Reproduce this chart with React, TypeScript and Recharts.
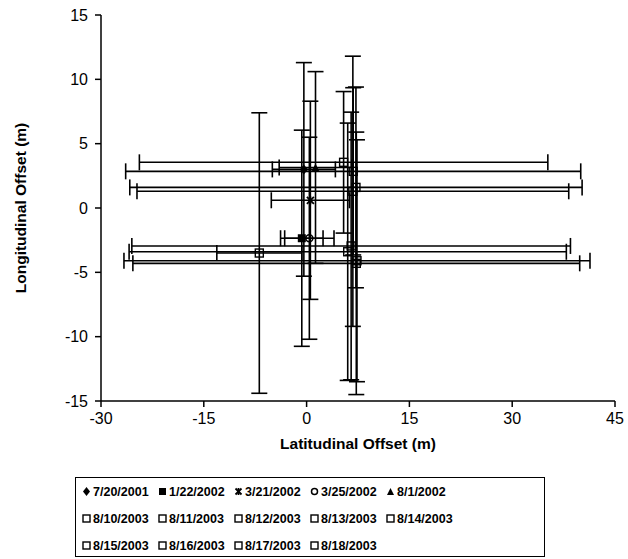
import React from 'react';
import { ScatterChart, Scatter, XAxis, YAxis, ErrorBar, Legend } from 'recharts';

const FONT = '"Liberation Sans", Arial, sans-serif';

const seriesNames = [
  '7/20/2001', '1/22/2002', '3/21/2002', '3/25/2002', '8/1/2002',
  '8/10/2003', '8/11/2003', '8/12/2003', '8/13/2003', '8/14/2003',
  '8/15/2003', '8/16/2003', '8/17/2003', '8/18/2003',
];
const markerTypes = [
  'diamond', 'filledSquare', 'star', 'circle', 'triangle',
  'square', 'square', 'square', 'square', 'square',
  'square', 'square', 'square', 'square',
];
const xValues = [-0.4, -0.7, 0.55, 0.4, 1.3, 5.4, 6.8, 7.2, 6.75, 6.5, 6.0, 7.35, 7.25, -6.9];
const yValues = [3.0, -2.35, 0.6, -2.35, 3.15, 3.55, 2.85, 1.6, 1.3, -2.95, -3.4, -4.1, -4.3, -3.5];
const xErrors = [4.6, 3.1, 5.7, 3.6, 5.3, 29.8, 33.2, 33.0, 31.5, 32.0, 31.9, 34.0, 32.6, 6.2];
const yErrors = [8.3, 8.4, 7.7, 7.85, 7.45, 5.5, 6.5, 7.8, 10.5, 10.4, 10.0, 9.4, 10.2, 10.9];

const xTicks = [-30, -15, 0, 15, 30, 45];
const yTicks = [-15, -10, -5, 0, 5, 10, 15];

function Marker({ cx, cy, type, r = 4 }: { cx: number; cy: number; type: string; r?: number }) {
  if (cx == null || cy == null) return null;
  switch (type) {
    case 'diamond':
      return <polygon points={`${cx},${cy - r - 1} ${cx + r},${cy} ${cx},${cy + r + 1} ${cx - r},${cy}`} fill="#000" />;
    case 'filledSquare':
      return <rect x={cx - r} y={cy - r} width={2 * r} height={2 * r} fill="#000" />;
    case 'star':
      return (
        <g stroke="#000" strokeWidth={1.8}>
          <line x1={cx - r + 0.5} y1={cy - r + 0.5} x2={cx + r - 0.5} y2={cy + r - 0.5} />
          <line x1={cx - r + 0.5} y1={cy + r - 0.5} x2={cx + r - 0.5} y2={cy - r + 0.5} />
          <line x1={cx} y1={cy - r} x2={cx} y2={cy + r} />
        </g>
      );
    case 'circle':
      return <circle cx={cx} cy={cy} r={r - 0.5} fill="none" stroke="#000" strokeWidth={1.5} />;
    case 'triangle':
      return <polygon points={`${cx},${cy - r} ${cx + r},${cy + r} ${cx - r},${cy + r}`} fill="#000" />;
    default:
      return <rect x={cx - r} y={cy - r} width={2 * r} height={2 * r} fill="none" stroke="#000" strokeWidth={1.4} />;
  }
}

const series = seriesNames.map((name, i) => ({
  name,
  type: markerTypes[i],
  data: [{ x: xValues[i], y: yValues[i], ex: xErrors[i], ey: yErrors[i] }],
}));

const renderLegend = () => (
  <div
    style={{
      boxSizing: 'border-box',
      width: 470,
      height: 80,
      border: '1.5px solid #000',
      background: '#fff',
      paddingLeft: 5,
      fontFamily: FONT,
      fontWeight: 'bold',
      fontSize: 12.5,
      color: '#000',
      display: 'grid',
      gridTemplateColumns: 'repeat(5, 76px)',
      gridAutoRows: '27px',
    }}
  >
    {series.map((s) => (
      <div key={s.name} style={{ display: 'flex', alignItems: 'center', whiteSpace: 'nowrap' }}>
        <svg width={11} height={11} style={{ marginRight: 1 }}>
          <Marker cx={5.5} cy={5.5} type={s.type} r={3.5} />
        </svg>
        <span>{s.name}</span>
      </div>
    ))}
  </div>
);

const xLabel = (props: any) => {
  const vb = props.viewBox;
  return (
    <text x={vb.x + vb.width / 2} y={vb.y + 42} textAnchor="middle" dominantBaseline="central"
      fontFamily={FONT} fontWeight="bold" fontSize={15.5} fill="#000">
      Latitudinal Offset (m)
    </text>
  );
};

const yLabel = (props: any) => {
  const vb = props.viewBox;
  const cy = vb.y + vb.height / 2;
  return (
    <text x={20} y={cy} transform={`rotate(-90 20 ${cy})`} textAnchor="middle" dominantBaseline="central"
      fontFamily={FONT} fontWeight="bold" fontSize={15.5} fill="#000">
      Longitudinal Offset (m)
    </text>
  );
};

export default function App() {
  return (
    <div style={{ position: 'fixed', left: 0, top: 0, width: 628, height: 559, background: '#fff' }}>
      <ScatterChart width={628} height={559} margin={{ top: 15, right: 13, bottom: 2, left: 21 }}>
        <XAxis
          type="number"
          dataKey="x"
          domain={[-30, 45]}
          ticks={xTicks}
          interval={0}
          height={76}
          axisLine={{ stroke: '#000', strokeWidth: 1.5 }}
          tickLine={{ stroke: '#000', strokeWidth: 1.5 }}
          tickSize={6}
          tickMargin={6}
          tick={{ fill: '#000', fontSize: 16, fontFamily: FONT }}
          label={xLabel}
          allowDataOverflow
        />
        <YAxis
          type="number"
          dataKey="y"
          domain={[-15, 15]}
          ticks={yTicks}
          interval={0}
          width={80}
          axisLine={{ stroke: '#000', strokeWidth: 1.5 }}
          tickLine={{ stroke: '#000', strokeWidth: 1.5 }}
          tickSize={6}
          tickMargin={7}
          tick={{ fill: '#000', fontSize: 16, fontFamily: FONT }}
          label={yLabel}
          allowDataOverflow
        />
        <Legend verticalAlign="bottom" content={renderLegend} wrapperStyle={{ left: 75, width: 470 }} />
        {series.map((s) => (
          <Scatter
            key={s.name}
            name={s.name}
            data={s.data}
            isAnimationActive={false}
            shape={(p: any) => <Marker cx={p.cx} cy={p.cy} type={s.type} r={4} />}
          >
            <ErrorBar dataKey="ex" direction="x" stroke="#000" strokeWidth={1.6} width={8} isAnimationActive={false} />
            <ErrorBar dataKey="ey" direction="y" stroke="#000" strokeWidth={1.6} width={8} isAnimationActive={false} />
          </Scatter>
        ))}
      </ScatterChart>
    </div>
  );
}
